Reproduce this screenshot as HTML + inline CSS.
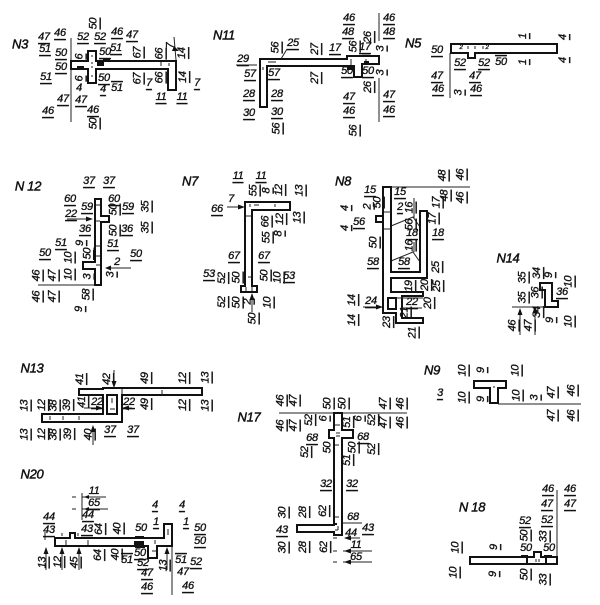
<!DOCTYPE html>
<html><head><meta charset="utf-8"><style>
html,body{margin:0;padding:0;background:#fff}
svg{display:block}
text{font:italic 11px "Liberation Sans",sans-serif;letter-spacing:-.3px;fill:#111;text-anchor:middle;dominant-baseline:central;text-decoration:underline;text-decoration-thickness:1.3px;stroke:#111;stroke-width:.35}
.n{text-decoration:none}
.o{text-decoration:overline}
.r{transform-box:fill-box;transform-origin:center;transform:rotate(-90deg)}
.t{font-size:13px;text-decoration:none;stroke-width:.45}
.s{font-size:6px;text-decoration:none}
.p{fill:#fff;stroke:#111;stroke-width:2}
.l{fill:none;stroke:#222;stroke-width:1}
.k{fill:#111;stroke:none}
</style></head><body>
<svg width="600" height="605" viewBox="0 0 600 605" xmlns="http://www.w3.org/2000/svg">
<!-- N3 -->
<text class="t" x="20" y="44">N3</text>
<path class="l" d="M71 38V122"/>
<path class="p" d="M71 61H88V51H96V61H176V90H168V69H96V83H88V69H71Z"/>
<path class="l" d="M92 55v2M92 62v2M92 66v2M92 75v2M161 62v4M169 63v3"/><rect class="k" x="77" y="66" width="7" height="3"/><rect class="k" x="97" y="62" width="7" height="4"/><rect class="k" x="103" y="58" width="7" height="2"/>
<text x="44" y="37">47</text><text x="45" y="49">51</text><text x="60" y="33">46</text><text x="61" y="53">50</text><text x="61" y="67">50</text><text x="46" y="77">51</text><text x="63" y="99">47</text><text x="48" y="111">46</text><text x="83" y="37">52</text><text x="100" y="37">52</text><text x="117" y="32">46</text><text x="132" y="35">47</text><text x="116" y="48">51</text><text x="105" y="52">50</text><text x="104" y="78">50</text><text x="103" y="89">4</text><text class="o" x="117" y="88">51</text><text class="n" x="79" y="88">4</text><text x="81" y="100">47</text><text x="93" y="110">46</text>
<text class="r" x="93" y="23">50</text><text class="r" x="93" y="123">50</text><text class="r" x="79" y="56">6</text><text class="r" x="79" y="78">6</text><text class="r" x="137" y="52">67</text><text class="r" x="137" y="78">67</text><text class="r" x="159" y="53">66</text><text class="r" x="159" y="77">66</text><text class="r n" x="170" y="45">7</text><text class="r" x="182" y="53">14</text><text class="r" x="183" y="77">14</text><text x="149" y="83">7</text><text x="197" y="83">7</text><text x="161" y="97">11</text><text x="182" y="97">11</text>
<path class="l" d="M174 37L176 60"/><path class="k" d="M174 46l5 5h-7z"/>
<!-- N11 -->
<text class="t" x="224" y="35">N11</text>
<path class="l" d="M236 65H257M287 49L281 59M379 13V41M379 78V122"/>
<path class="p" d="M260 59H347V56H379V64H362V77H354V66H267V107H260Z"/>
<path class="l" d="M268 62h8M263 67v3M351 59v6M366 59v5"/><rect class="k" x="347" y="66" width="7" height="4"/><rect class="k" x="364" y="61" width="5" height="4"/><rect class="k" x="362" y="53" width="8" height="1.5"/>
<text x="243" y="59">29</text><text x="250" y="74">57</text><text x="274" y="73">57</text><text x="249" y="94">28</text><text x="277" y="94">28</text><text x="249" y="113">30</text><text x="277" y="112">30</text><text x="293" y="43">25</text><text x="335" y="48">17</text><text x="349" y="18">46</text><text x="348" y="32">48</text><text x="389" y="18">46</text><text x="389" y="32">48</text><text x="365" y="47">17</text><text x="349" y="97">47</text><text x="349" y="111">46</text><text x="389" y="95">47</text><text x="389" y="110">46</text><text x="347" y="71">50</text><text x="368" y="71">50</text>
<text class="r" x="275" y="47">56</text><text class="r" x="276" y="128">56</text><text class="r" x="315" y="49">27</text><text class="r" x="315" y="78">27</text><text class="r" x="353" y="46">56</text><text class="r" x="353" y="130">56</text><text class="r" x="368" y="37">26</text><text class="r" x="368" y="87">26</text><text class="r" x="380" y="48">3</text><text class="r" x="380" y="72">3</text>
<!-- N5 -->
<text class="t" x="413" y="43">N5</text>
<path class="l" d="M450 53V98"/>
<path class="p" d="M451 44H557V53H475V58H468V53H451Z"/>
<path class="l" d="M468 46v3M475 46v3M483 46v3"/><text class="s" x="461" y="48">2</text><text class="s" x="487" y="48">2</text>
<text x="437" y="50">50</text><text x="460" y="63">52</text><text x="484" y="63">52</text><text class="o" x="501" y="62">50</text><text x="437" y="76">47</text><text x="438" y="89">46</text><text x="475" y="76">47</text><text x="476" y="89">46</text>
<text class="r" x="523" y="36">1</text><text class="r" x="523" y="62">1</text><text class="r" x="563" y="37">4</text><text class="r" x="563" y="60">4</text><text class="r" x="458" y="92">3</text>
<!-- N12 -->
<text class="t" x="28" y="186">N 12</text>
<path class="l" d="M67 219H90M108 268H131M38 285H95"/><path class="k" d="M93 219l-7-2.500v5z"/><path class="k" d="M105 268l6-2.500v5z"/>
<path class="p" d="M95 199H101V216H109V222H101V285H95V269H83V262H95Z"/>
<path class="l" d="M96 205h4M96 221h4M96 246h4M96 256h4M96 265h4"/><rect class="k" x="93" y="250" width="2" height="10"/>
<text x="89" y="181">37</text><text x="109" y="181">37</text><text x="70" y="199">60</text><text x="114" y="199">60</text><text x="87" y="207">59</text><text x="128" y="207">59</text><text x="71" y="214">22</text><text x="85" y="229">36</text><text x="127" y="229">36</text><text x="61" y="243">51</text><text x="113" y="244">51</text><text x="45" y="253">50</text><text x="136" y="254">50</text><text class="n" x="117" y="262">2</text>
<text class="r" x="145" y="206">35</text><text class="r" x="145" y="227">35</text><text class="r" x="113" y="209">50</text><text class="r" x="113" y="230">50</text><text class="r" x="80" y="243">9</text><text class="r" x="68" y="257">10</text><text class="r" x="68" y="274">10</text><text class="r" x="87" y="253">50</text><text class="r" x="36" y="275">46</text><text class="r" x="52" y="275">47</text><text class="r" x="36" y="296">46</text><text class="r" x="52" y="296">47</text><text class="r" x="86" y="294">58</text><text class="r" x="79" y="309">9</text><text class="r" x="87" y="276">3</text><text class="r" x="110" y="274">3</text>
<!-- N7 -->
<text class="t" x="190" y="181">N7</text>
<path class="l" d="M227 207H243M252 312V294"/><path class="k" d="M245 207l-7-2.500v5z"/><path class="k" d="M252 293l-2.500 7h5z"/>
<path class="p" d="M245 202H290V210H252V286H257V292H241V286H245Z"/>
<path class="l" d="M250 204v3M254 205h5M275 204v3M246 216h5M248 277h3M246 287v4M252 287v4"/>
<text x="238" y="176">11</text><text x="261" y="176">11</text><text class="n" x="231" y="199">7</text><text x="217" y="209">66</text><text x="234" y="256">67</text><text x="264" y="256">67</text><text x="209" y="274">53</text><text x="289" y="276">53</text>
<text class="r" x="253" y="190">55</text><text class="r" x="266" y="190">8</text><text class="r" x="279" y="190">12</text><text class="r" x="299" y="190">13</text><text class="r" x="265" y="221">66</text><text class="r" x="280" y="219">12</text><text class="r" x="297" y="217">13</text><text class="r" x="278" y="233">8</text><text class="r" x="266" y="237">55</text><text class="r" x="222" y="278">52</text><text class="r" x="236" y="277">50</text><text class="r" x="264" y="275">50</text><text class="r" x="277" y="277">10</text><text class="r" x="222" y="302">52</text><text class="r" x="236" y="302">50</text><text class="r" x="248" y="302">2</text><text class="r" x="267" y="302">10</text><text class="r" x="252" y="318">50</text>
<!-- N8 -->
<text class="t" x="343" y="181">N8</text>
<path class="l" d="M383 187H470M391 226L413 217L420 227M391 261L413 252L420 262M414 198V218M414 242V252M363 307H380"/><path class="k" d="M383 307l-7-2.500v5z"/>
<path class="p" d="M383 187H391V272H420V211H427V278H391V292H423V296H402V318H423V323H396V313H383Z"/>
<path class="p" d="M388 298H396V309H388Z"/><path class="l" d="M396 298H423M384 212h7M384 229h7M402 308h20"/>
<path class="p" d="M376 216H383V222H376Z"/>
<text x="370" y="190">15</text><text x="400" y="192">15</text><text x="400" y="207">2</text><text x="359" y="222">56</text><text x="412" y="233">18</text><text x="438" y="233">18</text><text x="373" y="262">58</text><text x="404" y="262">58</text><text x="371" y="301">24</text><text x="412" y="302">22</text>
<text class="r" x="442" y="175">48</text><text class="r" x="460" y="174">46</text><text class="r" x="444" y="195">48</text><text class="r" x="460" y="197">46</text><text class="r" x="436" y="202">17</text><text class="r" x="432" y="218">17</text><text class="r" x="345" y="208">4</text><text class="r" x="345" y="228">4</text><text class="r" x="368" y="207">2</text><text class="r" x="377" y="202">50</text><text class="r" x="409" y="207">16</text><text class="r" x="409" y="224">56</text><text class="r" x="373" y="242">50</text><text class="r" x="409" y="245">16</text><text class="r" x="436" y="267">25</text><text class="r" x="409" y="286">19</text><text class="r" x="425" y="285">20</text><text class="r" x="437" y="286">25</text><text class="r" x="352" y="300">14</text><text class="r" x="352" y="320">14</text><text class="r" x="387" y="322">23</text><text class="r" x="428" y="303">20</text><text class="r" x="405" y="313">21</text><text class="r" x="413" y="333">21</text>
<!-- N14 -->
<text class="t" x="508" y="258">N14</text>
<path class="l" d="M512 307H545M520 335V312M535 335V310"/><path class="k" d="M520 308l-2.500 7h5zM535 306l-2.500 7h5z"/>
<path class="p" d="M540 283H552V301H558V307H545V290H540Z"/>
<text class="r" x="522" y="277">35</text><text class="r" x="537" y="273">34</text><text class="r" x="549" y="275">9</text><text class="r" x="568" y="281">10</text><text class="r" x="522" y="297">35</text><text class="r" x="535" y="292">36</text><text class="r" x="537" y="312">34</text><text class="r" x="550" y="320">9</text><text class="r" x="568" y="321">10</text><text class="r" x="512" y="325">46</text><text class="r" x="528" y="325">47</text><text x="562" y="292">36</text>
<!-- N13 -->
<text class="t" x="32" y="368">N13</text>
<path class="l" d="M114 370V388M93 445V426"/><path class="k" d="M114 388l-2.500-7h5zM93 425l-2.500 7h5z"/>
<path class="p" d="M79 389H103V388H202V395H122V422H42V414H103V395H79Z"/>
<path class="p" d="M107 395H117V414H107Z"/>
<path class="l" d="M122 389v5M162 390v5M50 416v4M63 416v4M79 416v4M112 398v5M110 409h5"/>
<path class="l" d="M84 408H96M122 408H132"/><path class="k" d="M103 408l-7-2.500v5zM122 408l7-2.500v5z"/>
<text class="r" x="80" y="379">41</text><text class="r" x="107" y="379">42</text><text class="r" x="145" y="378">49</text><text class="r" x="183" y="378">12</text><text class="r" x="205" y="377">13</text><text class="r" x="24" y="405">13</text><text class="r" x="42" y="405">12</text><text class="r" x="53" y="405">38</text><text class="r" x="67" y="405">39</text><text class="r" x="82" y="402">41</text><text class="r" x="145" y="404">49</text><text class="r" x="183" y="405">12</text><text class="r" x="205" y="405">13</text><text class="r" x="24" y="434">13</text><text class="r" x="42" y="434">12</text><text class="r" x="53" y="434">38</text><text class="r" x="68" y="434">39</text><text class="r" x="88" y="434">40</text>
<text x="97" y="402">22</text><text x="129" y="402">22</text><text x="110" y="430">37</text><text x="133" y="430">37</text>
<!-- N20 -->
<text class="t" x="32" y="474">N20</text>
<path class="l" d="M82 493V520M82 497H106M82 509H108M72 497h4M72 509h4M172 546V595M46 570V550M62 570V550M79 570V550M167 570V550M45 532V540"/>
<path class="k" d="M46 547l-2.500 7h5zM62 547l-2.500 7h5zM79 547l-2.500 7h5zM167 547l-2.500 7h5zM84 497l5-2v4zM84 509l5-2v4z"/>
<path class="p" d="M55 538H70V533H75V538H164V524H172V546H157V558H148V546H55Z"/>
<path class="l" d="M62 533v3M66 540v5M78 533v3M88 540v5M155 540v4M152 551h4M168 529v6"/><rect class="k" x="135" y="536" width="9" height="3"/><rect class="k" x="134" y="541" width="10" height="4"/><rect class="k" x="135" y="546" width="10" height="2"/>
<text class="n" x="94" y="491">11</text><text x="94" y="503">65</text><text x="49" y="517">44</text><text x="49" y="530">43</text><text x="88" y="515">44</text><text x="87" y="529">43</text><text class="n" x="141" y="528">50</text><text x="155" y="505">4</text><text x="156" y="522">1</text><text x="182" y="505">4</text><text x="186" y="522">1</text><text x="200" y="528">50</text><text x="200" y="541">50</text><text x="140" y="553">50</text><text class="o" x="127" y="560">51</text><text x="143" y="563">52</text><text class="o" x="181" y="560">51</text><text x="196" y="562">52</text><text x="147" y="573">47</text><text x="147" y="587">46</text><text class="n" x="183" y="572">47</text><text x="188" y="586">46</text>
<text class="r" x="99" y="529">64</text><text class="r" x="117" y="528">40</text><text class="r" x="98" y="555">64</text><text class="r" x="115" y="554">40</text><text class="r" x="42" y="562">13</text><text class="r" x="58" y="562">12</text><text class="r" x="74" y="562">45</text><text class="r" x="163" y="565">13</text>
<!-- N17 -->
<text class="t" x="249" y="417">N17</text>
<path class="l" d="M279 413H407M343 523H362M345 538H360M343 551H372M343 562H372M333 538h4M333 551h4M333 562h4"/>
<path class="k" d="M344 538l7-2.500v5zM344 551l7-2.500v5zM344 562l7-2.500v5z"/>
<path class="p" d="M334 413H342V430H353V438H342V525H342V535H334V532H297V525H334V438H329V430H334Z"/>
<path class="l" d="M336 433h4M336 436h4M335 445h4M335 517h4M335 530h3M338 526v4M335 425h5"/><rect class="k" x="333" y="523" width="4" height="2"/>
<text class="r" x="280" y="400">46</text><text class="r" x="293" y="400">47</text><text class="r" x="327" y="403">50</text><text class="r" x="342" y="403">50</text><text class="r" x="383" y="403">47</text><text class="r" x="400" y="403">46</text><text class="r" x="280" y="425">46</text><text class="r" x="293" y="425">47</text><text class="r" x="309" y="420">52</text><text class="r" x="323" y="418">6</text><text class="r" x="347" y="422">51</text><text class="r" x="358" y="418">6</text><text class="r" x="372" y="420">52</text><text class="r" x="383" y="422">47</text><text class="r" x="400" y="422">46</text><text class="r" x="305" y="452">52</text><text class="r" x="327" y="447">50</text><text class="r" x="352" y="447">50</text><text class="r" x="372" y="449">52</text><text class="r" x="347" y="460">51</text><text class="r" x="282" y="512">30</text><text class="r" x="303" y="512">28</text><text class="r" x="323" y="511">62</text><text class="r" x="282" y="547">30</text><text class="r" x="303" y="547">28</text><text class="r" x="324" y="547">62</text>
<text x="312" y="438">68</text><text x="363" y="437">68</text><text x="326" y="484">32</text><text x="352" y="484">32</text><text class="n" x="353" y="517">68</text><text x="282" y="530">43</text><text x="368" y="528">43</text><text class="n" x="351" y="533">44</text><text class="n" x="356" y="545">11</text><text class="n" x="356" y="557">65</text>
<!-- N9 -->
<text class="t" x="432" y="370">N9</text>
<path class="l" d="M498 404H581"/>
<path class="p" d="M474 381H506V388H498V403H490V388H474Z"/><path class="l" d="M493 387h2"/>
<text class="r" x="462" y="370">10</text><text class="r" x="481" y="370">9</text><text class="r" x="515" y="370">10</text><text class="r" x="462" y="397">10</text><text class="r" x="481" y="399">9</text><text class="r" x="516" y="395">10</text><text class="r" x="534" y="397">3</text><text class="r" x="551" y="392">47</text><text class="r" x="571" y="390">46</text><text class="r" x="551" y="415">47</text><text class="r" x="571" y="415">46</text><text x="440" y="393">3</text>
<!-- N18 -->
<text class="t" x="472" y="507">N 18</text>
<path class="l" d="M557 490V564"/>
<path class="p" d="M470 557H534V552H541V557H557V564H470Z"/>
<rect class="k" x="521" y="555" width="7" height="3"/><rect class="k" x="544" y="555" width="8" height="3"/><rect class="k" x="526" y="558" width="2" height="6"/><rect class="k" x="545" y="558" width="2" height="6"/>
<path class="l" d="M536 559v3M539 559v3"/>
<text x="548" y="489">46</text><text x="547" y="504">47</text><text x="570" y="489">46</text><text x="570" y="504">47</text><text x="525" y="521">52</text><text x="547" y="520">52</text><text class="n" x="526" y="548">50</text><text class="n" x="549" y="548">50</text>
<text class="r" x="455" y="547">10</text><text class="r" x="494" y="547">9</text><text class="r" x="524" y="535">50</text><text class="r" x="543" y="536">33</text><text class="r" x="453" y="572">10</text><text class="r" x="493" y="574">9</text><text class="r" x="524" y="574">50</text><text class="r" x="543" y="579">33</text>
</svg>
</body></html>
